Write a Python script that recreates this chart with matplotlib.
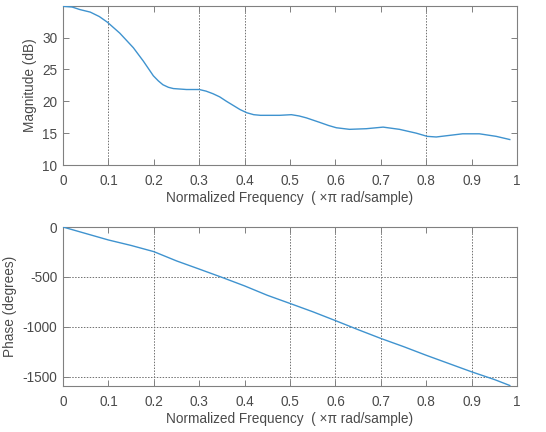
import matplotlib
matplotlib.use("Agg")
import matplotlib.pyplot as plt
import numpy as np

plt.rcParams['font.family'] = ['Liberation Sans', 'DejaVu Sans']

# Magnitude response (dB)
mag_freq = [0.0, 0.02, 0.037, 0.06, 0.08, 0.098, 0.125, 0.155, 0.177, 0.199, 0.21, 0.22, 0.232,
            0.243, 0.272, 0.30, 0.315, 0.33, 0.345, 0.36, 0.39, 0.405, 0.42, 0.435, 0.448, 0.477,
            0.503, 0.52, 0.536, 0.565, 0.585, 0.602, 0.631, 0.668, 0.705, 0.741, 0.778, 0.802,
            0.822, 0.851, 0.88, 0.917, 0.954, 0.984]
mag_db = [34.9, 34.8, 34.4, 34.0, 33.3, 32.4, 30.7, 28.4, 26.3, 24.0, 23.2, 22.6, 22.2,
          22.0, 21.85, 21.85, 21.6, 21.2, 20.7, 20.0, 18.7, 18.2, 17.9, 17.8, 17.8, 17.8,
          17.9, 17.7, 17.4, 16.7, 16.2, 15.85, 15.6, 15.7, 15.95, 15.6, 15.0, 14.5,
          14.4, 14.65, 14.9, 14.9, 14.5, 14.0]

# Phase response (degrees)
ph_freq = [0.0, 0.05, 0.1, 0.15, 0.2, 0.25, 0.3, 0.35, 0.4, 0.45, 0.5, 0.55, 0.6,
           0.65, 0.7, 0.75, 0.8, 0.85, 0.9, 0.95, 0.984]
ph_deg = [0, -65, -130, -185, -247, -340, -422, -505, -591, -685, -767, -850, -939,
          -1030, -1118, -1200, -1287, -1370, -1453, -1530, -1590]

x_ticks = [0, 0.1, 0.2, 0.3, 0.4, 0.5, 0.6, 0.7, 0.8, 0.9, 1]
x_tick_labels = ['0', '0.1', '0.2', '0.3', '0.4', '0.5', '0.6', '0.7', '0.8', '0.9', '1']
mag_yticks = [10, 15, 20, 25, 30]
ph_yticks = [-1500, -1000, -500, 0]
ph_ytick_labels = ['-1500', '-1000', '-500', '0']

top_vgrid = [0.1, 0.3, 0.4, 0.8]
bot_vgrid = [0.2, 0.5, 0.6, 0.7, 0.9]
bot_hgrid = [-500, -1000, -1500]

xlabel = 'Normalized Frequency  ( \u00d7\u03c0 rad/sample)'
line_color = '#3f93cf'
text_color = '#4a4a4a'
edge_color = '#808080'
grid_color = '#707070'
fs = 9.8

fig = plt.figure(figsize=(5.46, 4.32), dpi=100)
ax1 = fig.add_axes([0.1154, 0.618, 0.8316, 0.368])
ax2 = fig.add_axes([0.1154, 0.1065, 0.8316, 0.368])

def style(ax):
    for s in ax.spines.values():
        s.set_color(edge_color)
        s.set_linewidth(0.8)
    ax.tick_params(direction='in', top=True, right=True, length=4, width=0.7,
                   color=edge_color, labelcolor=text_color, labelsize=fs)
    ax.tick_params(axis='x', pad=6.5)
    ax.tick_params(axis='y', pad=4)
    ax.set_xlim(0, 1)
    ax.set_xticks(x_ticks)
    ax.set_xticklabels(x_tick_labels)
    ax.set_xlabel(xlabel, fontsize=fs, color=text_color, labelpad=2)

style(ax1)
for v in top_vgrid:
    ax1.axvline(v, color=grid_color, linestyle=(0, (1.5, 1.5)), linewidth=0.7, zorder=1)
ax1.plot(mag_freq, mag_db, color=line_color, linewidth=1.0, zorder=3)
ax1.set_ylim(10, 34.95)
ax1.set_yticks(mag_yticks)
ax1.set_ylabel('Magnitude (dB)', fontsize=fs, color=text_color, labelpad=4)

style(ax2)
for v in bot_vgrid:
    ax2.axvline(v, color=grid_color, linestyle=(0, (1.5, 1.5)), linewidth=0.7, zorder=1)
for h in bot_hgrid:
    ax2.axhline(h, color=grid_color, linestyle=(0, (1.5, 1.5)), linewidth=0.7, zorder=1)
ax2.plot(ph_freq, ph_deg, color=line_color, linewidth=1.0, zorder=3)
ax2.set_ylim(-1595, 0)
ax2.set_yticks(ph_yticks)
ax2.set_yticklabels(ph_ytick_labels)
ax2.set_ylabel('Phase (degrees)', fontsize=fs, color=text_color, labelpad=4)

fig.savefig('out.png', dpi=100)
